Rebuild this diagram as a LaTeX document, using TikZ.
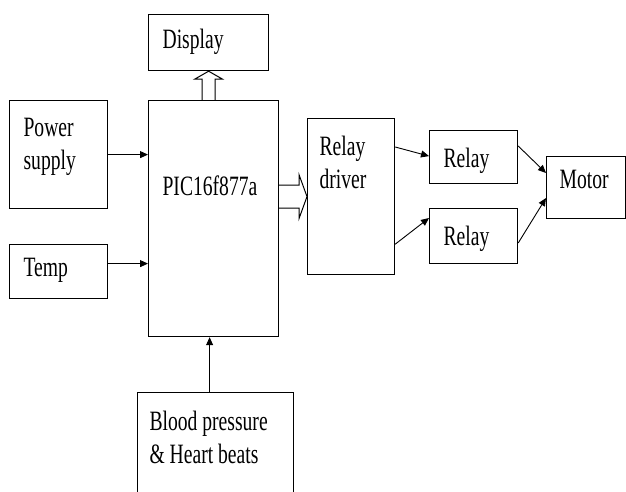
\documentclass[tikz,border=0pt]{standalone}
\usepackage{graphicx}
\usepackage{fontspec}
\setmainfont{Liberation Serif}
\usetikzlibrary{arrows.meta, calc, positioning}

\newcommand{\boxlabel}[5]{\scalebox{0.7}[1]{\parbox[c][#2pt][t]{\dimexpr#1pt*10/7\relax}{%
    \vspace*{#4pt}\leftskip=\dimexpr#3pt*10/7\relax #5}}}

\begin{document}
\begin{tikzpicture}[
    x=1pt, y=-1pt,
    block/.style={
        rectangle, draw, line width=1.2pt, inner sep=0pt,
        anchor=north west, font=\rmfamily\fontsize{28}{33}\selectfont
    },
    arrow/.style={line width=0.9pt, -{Triangle[length=8pt,width=7pt]}},
    hollow/.style={draw, fill=white, line width=1pt, line join=miter}
]
\useasboundingbox (0,0) rectangle (626,492);

%% Inputs
\node (disp)  [block] at (148,14)  {\boxlabel{120}{56}{14}{14}{Display}};
\node (ps)    [block] at (9,100)   {\boxlabel{98}{108}{14}{18}{Power\\supply}};
\node (temp)  [block] at (9,244)   {\boxlabel{98}{54}{14}{14}{Temp}};
\node (bp)    [block] at (137,392) {\boxlabel{156}{104}{12}{18}{Blood pressure\\\& Heart beats}};

%% Controller
\node (pic)   [block] at (148,100) {\boxlabel{130}{236}{14}{75}{PIC16f877a}};

%% Output stage
\node (drv)   [block] at (307,118) {\boxlabel{87}{156}{12}{17}{Relay\\driver}};
\node (rel1)  [block] at (429,130) {\boxlabel{88}{53}{14}{17}{Relay}};
\node (rel2)  [block] at (429,208) {\boxlabel{88}{55}{14}{17}{Relay}};
\node (motor) [block] at (546,156) {\boxlabel{79}{62}{13}{14}{Motor}};

%% Arrows
\draw [arrow] (ps.east) -- (ps.east -| pic.west);
\draw [arrow] ($(temp.east)+(0,-8)$) -- ($(temp.east -| pic.west)+(0,-8)$);
\draw [arrow] ($(bp.north)+(-6,0)$) -- ($(pic.south -| bp.north)+(-6,0)$);
\draw [arrow] ($(drv.north east)+(0,29)$) -- ($(rel1.west)+(0,-1)$);
\draw [arrow] ($(drv.south east)+(0,-31)$) -- ($(rel2.north west)+(0,10)$);
\draw [arrow] ($(rel1.north east)+(0,16)$) -- ($(motor.north west)+(0,17)$);
\draw [arrow] ($(rel2.north east)+(0,35)$) -- ($(motor.north west)+(0,42)$);

%% Bus arrows
\draw [hollow] ($(disp.south |- pic.north)+(-6.5,0)$) -- ($(disp.south)+(-6.5,8)$)
    -- ($(disp.south)+(-14,8)$) -- (disp.south) -- ($(disp.south)+(14,8)$)
    -- ($(disp.south)+(6.5,8)$) -- ($(disp.south |- pic.north)+(6.5,0)$);
\draw [hollow] ($(pic.east |- drv.west)+(0,-11.5)$) -- ($(drv.west)+(-8,-11.5)$)
    -- ($(drv.west)+(-8,-22)$) -- (drv.west) -- ($(drv.west)+(-8,22)$)
    -- ($(drv.west)+(-8,11.5)$) -- ($(pic.east |- drv.west)+(0,11.5)$);

\end{tikzpicture}
\end{document}
